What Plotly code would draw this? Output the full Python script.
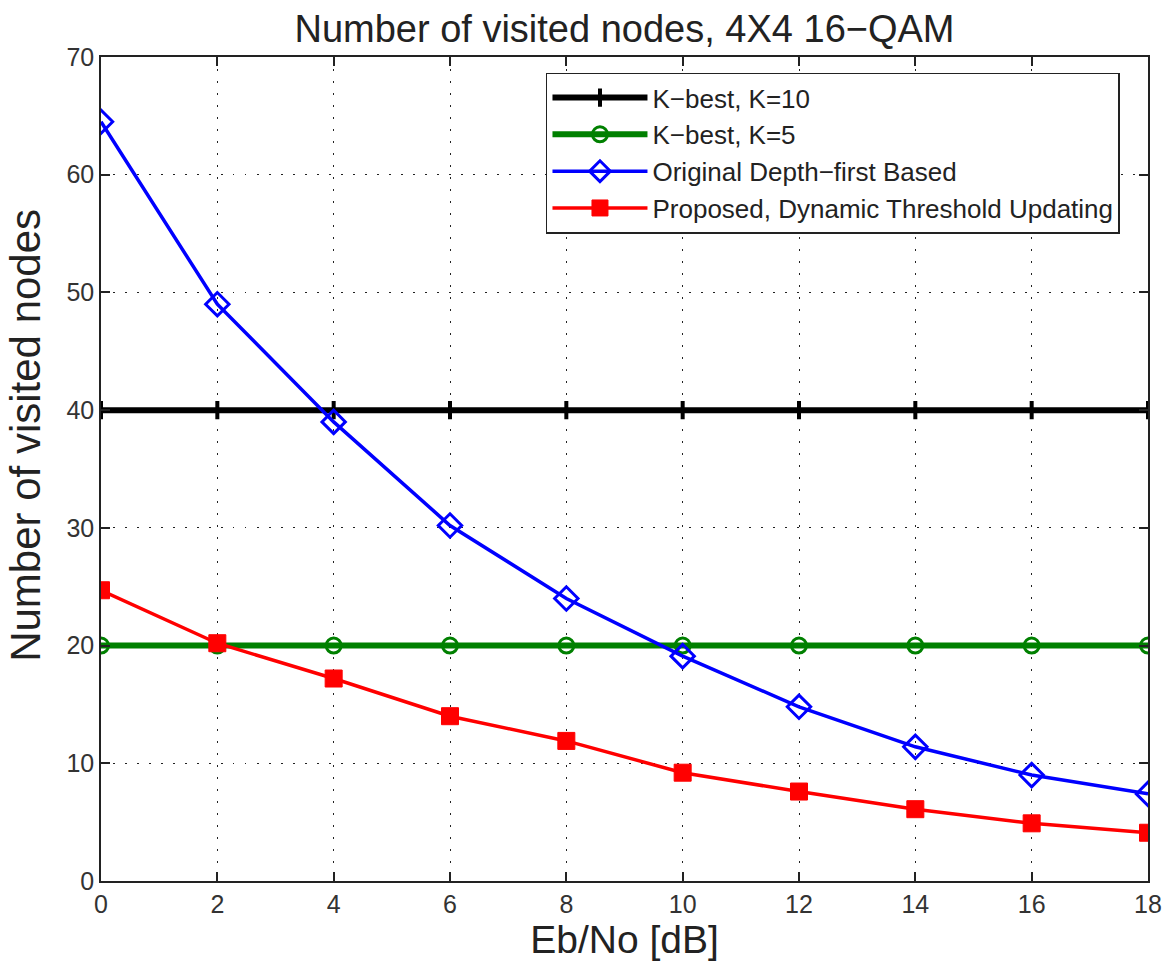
import plotly.graph_objects as go

ebno = [0, 2, 4, 6, 8, 10, 12, 14, 16, 18]
kbest10 = [40, 40, 40, 40, 40, 40, 40, 40, 40, 40]
kbest5 = [20, 20, 20, 20, 20, 20, 20, 20, 20, 20]
depth_first = [64.5, 49.0, 39.0, 30.2, 24.0, 19.1, 14.8, 11.4, 9.0, 7.4]
proposed = [24.7, 20.2, 17.2, 14.0, 11.9, 9.2, 7.6, 6.1, 4.9, 4.1]

names = ["K\u2212best, K=10", "K\u2212best, K=5", "Original Depth\u2212first Based",
         "Proposed, Dynamic Threshold Updating"]

fig = go.Figure()
fig.add_trace(go.Scatter(x=ebno, y=kbest10, name=names[0], mode="lines+markers",
                         line=dict(color="black", width=6),
                         marker=dict(symbol="cross-thin-open", size=13, line=dict(color="black", width=4))))
fig.add_trace(go.Scatter(x=ebno, y=kbest5, name=names[1], mode="lines+markers",
                         line=dict(color="#008000", width=6),
                         marker=dict(symbol="circle-open", size=15, color="#008000", line=dict(color="#008000", width=3))))
fig.add_trace(go.Scatter(x=ebno, y=depth_first, name=names[2], mode="lines+markers",
                         line=dict(color="#0000ff", width=3.5),
                         marker=dict(symbol="diamond-open", size=18, color="#0000ff", line=dict(color="#0000ff", width=3))))
fig.add_trace(go.Scatter(x=ebno, y=proposed, name=names[3], mode="lines+markers",
                         line=dict(color="#ff0000", width=3.5),
                         marker=dict(symbol="square", size=17, color="#ff0000", line=dict(color="#ff0000", width=1))))

axis_common = dict(showline=True, linecolor="#222", linewidth=1.5, mirror="allticks",
                   ticks="inside", ticklen=9, tickwidth=1.5, tickcolor="#222",
                   showgrid=True, gridcolor="#222", gridwidth=1, griddash="1.5px,10.5px",
                   zeroline=False, automargin=False, tickfont=dict(size=25, color="#333"))

fig.update_xaxes(range=[0, 18], tickvals=ebno,
                 title=dict(text="Eb/No [dB]", font=dict(size=39, color="#222"), standoff=2),
                 **axis_common)
fig.update_yaxes(range=[0, 70], tickvals=[0, 10, 20, 30, 40, 50, 60, 70], **axis_common)

fig.update_layout(
    width=1163, height=961,
    margin=dict(l=101, r=15, t=57, b=80),
    paper_bgcolor="white", plot_bgcolor="white",
    font=dict(family="Liberation Sans, Arial, sans-serif", color="#222"),
    title=dict(text="Number of visited nodes, 4X4 16\u2212QAM", xref="paper", x=0.5, xanchor="center",
               y=0.97, yanchor="middle", font=dict(size=38, color="#222")),
    legend=dict(x=0.425, y=0.981, xanchor="left", yanchor="top",
                bordercolor="#222", borderwidth=1.5, bgcolor="white",
                itemwidth=95,
                font=dict(size=26, color="#222"), tracegroupgap=0),
    showlegend=True,
    annotations=[dict(text="Number of visited nodes", xref="paper", yref="paper",
                      x=-0.072, y=0.541, xanchor="center", yanchor="middle", textangle=-90,
                      showarrow=False, font=dict(size=42, color="#222"))],
)

fig.write_html("out.html")
